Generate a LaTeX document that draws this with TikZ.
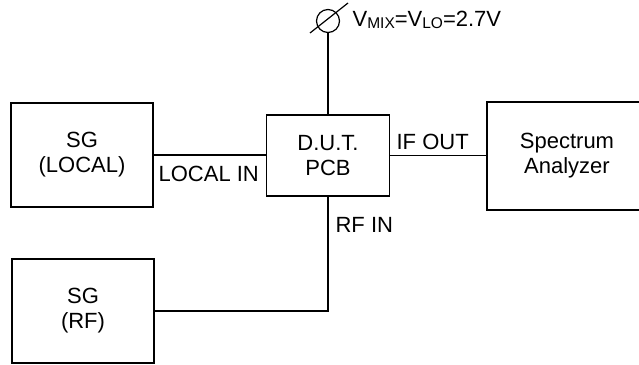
\documentclass[tikz,border=0pt]{standalone}
\usepackage{fontspec}
\setmainfont{Liberation Sans}
\begin{document}
\begin{tikzpicture}[x=1pt,y=-1pt,line width=1.2pt,
  blk/.style={draw,rectangle,align=center,inner sep=0pt,font=\fontsize{22}{25}\selectfont},
  lbl/.style={anchor=base west,inner sep=0pt,font=\fontsize{22}{25}\selectfont}]
\useasboundingbox (0,0) rectangle (639,364);
\clip (0,0) rectangle (639,364);
% blocks
\node[blk,minimum width=142pt,minimum height=104pt] (sgl) at (82,155) {SG\\(LOCAL)};
\node[blk,minimum width=123pt,minimum height=81pt] (dut) at (328,155.5) {D.U.T.\\PCB};
\node[blk,minimum width=160pt,minimum height=108pt] (spec) at (567,156) {Spectrum\\Analyzer};
\node[blk,minimum width=142pt,minimum height=104pt] (sgrf) at (83,311) {SG\\(RF)};
% meter
\node[draw,circle,minimum size=23pt,inner sep=0pt] (meter) at (328,21) {};
\coordinate (s1) at (310,33);
\coordinate (s2) at (348,3);
\draw (s1) -- (s2);
% connectors
\draw (meter.south) -- (dut.north);
\draw (sgl.east) -- (sgl.east -| dut.west);
\draw (dut.east) -- (dut.east -| spec.west);
\draw (dut.south) -- (dut.south |- sgrf.east) -- (sgrf.east);
% labels
\node[lbl] (lin) at (158,181) {LOCAL IN};
\node[lbl] (ifo) at (396,149) {IF OUT};
\node[lbl] (rfi) at (335,232) {RF IN};
\node[lbl] (vmix) at (352,27) {V\raisebox{-1.5pt}{\fontsize{15.5}{15.5}\selectfont MIX}=V\raisebox{-1.5pt}{\fontsize{15.5}{15.5}\selectfont LO}=2.7V};
\end{tikzpicture}
\end{document}
